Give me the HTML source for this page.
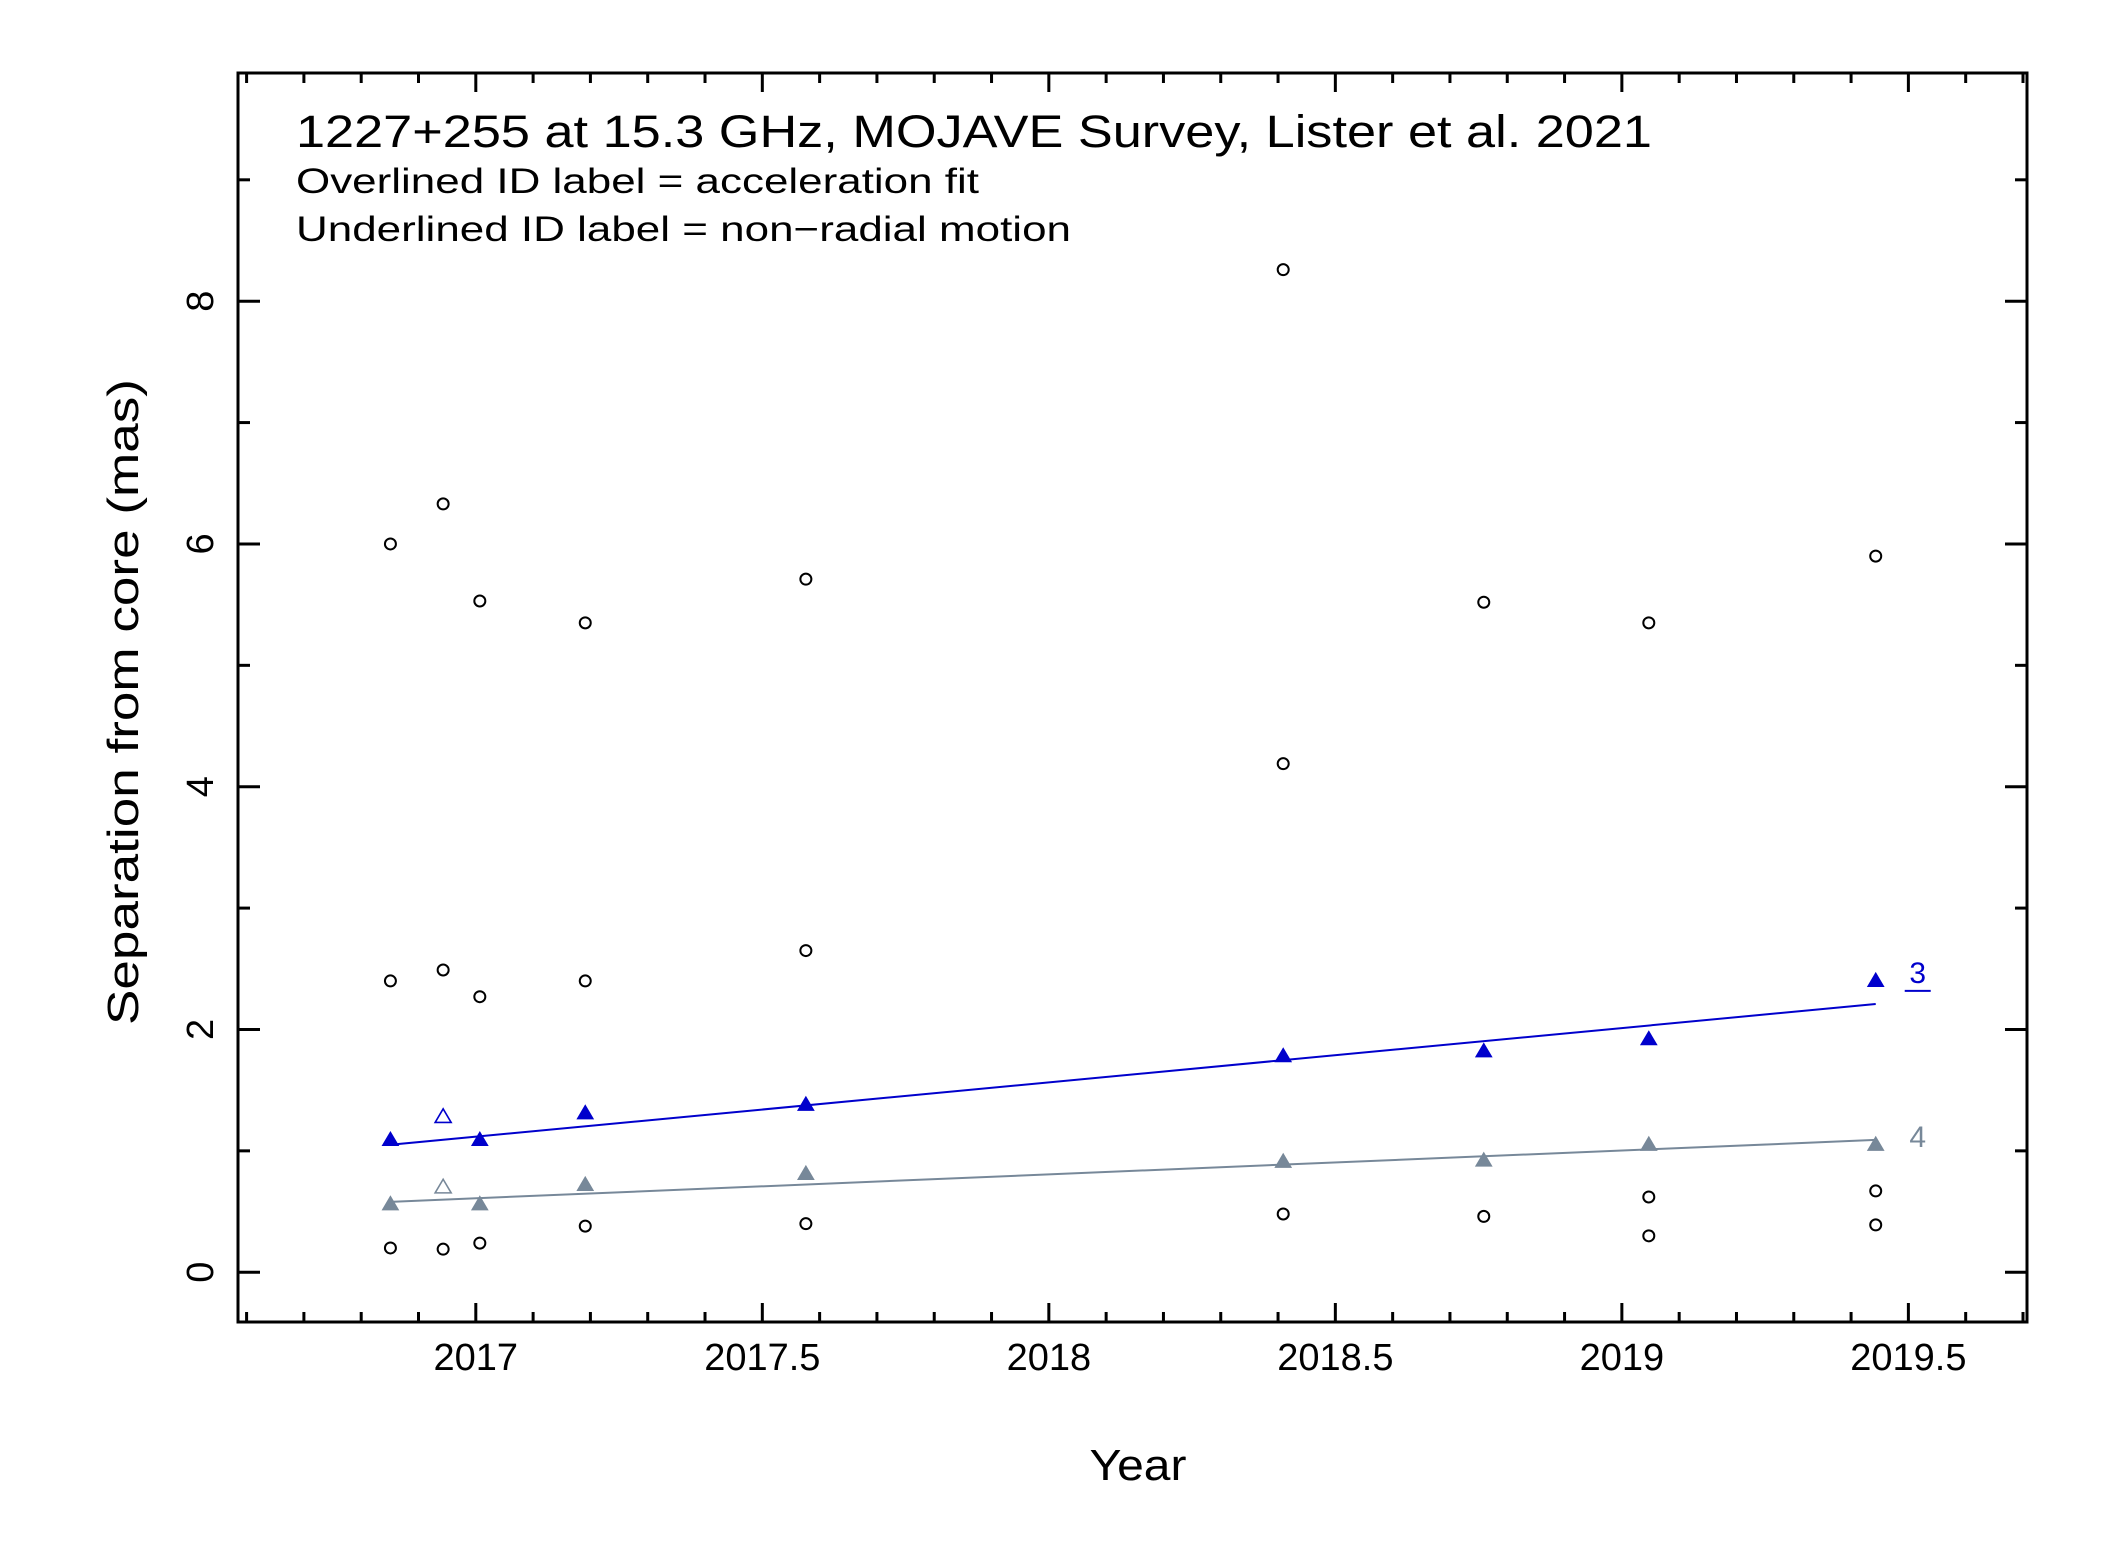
<!DOCTYPE html>
<html><head><meta charset="utf-8"><style>
html,body{margin:0;padding:0;background:#fff;}
svg{display:block;font-family:"Liberation Sans",sans-serif;}
</style></head><body>
<svg id="chart" width="2127" height="1546" viewBox="0 0 2127 1546" xmlns="http://www.w3.org/2000/svg">
<rect x="0" y="0" width="2127" height="1546" fill="#fff"/>
<g id="plot"></g>
<text x="296" y="147" font-size="45" textLength="1356" lengthAdjust="spacingAndGlyphs">1227+255 at 15.3 GHz, MOJAVE Survey, Lister et al. 2021</text>
<text x="296" y="193" font-size="35" textLength="683" lengthAdjust="spacingAndGlyphs">Overlined ID label = acceleration fit</text>
<text x="296" y="241" font-size="35" textLength="775" lengthAdjust="spacingAndGlyphs">Underlined ID label = non−radial motion</text>
<text x="1138" y="1480" font-size="44" text-anchor="middle" textLength="97" lengthAdjust="spacingAndGlyphs">Year</text>
<text transform="translate(138,702) rotate(-90)" font-size="44" text-anchor="middle" textLength="646" lengthAdjust="spacingAndGlyphs">Separation from core (mas)</text>
</svg>
<script>
const epochs = [2016.851, 2016.943, 2017.007, 2017.191, 2017.576, 2018.409, 2018.759, 2019.047, 2019.443];
const otherX = [2016.851,2016.851,2016.851, 2016.943,2016.943,2016.943, 2017.007,2017.007,2017.007, 2017.191,2017.191,2017.191, 2017.576,2017.576,2017.576, 2018.409,2018.409,2018.409, 2018.759,2018.759, 2019.047,2019.047,2019.047, 2019.443,2019.443,2019.443];
const otherY = [6.00,2.40,0.20, 6.33,2.49,0.19, 5.53,2.27,0.24, 5.35,2.40,0.38, 5.71,2.65,0.40, 8.26,4.19,0.48, 5.52,0.46, 5.35,0.62,0.30, 5.90,0.67,0.39];
const comp3Y = [1.09, 1.28, 1.09, 1.31, 1.38, 1.78, 1.82, 1.92, 2.40];
const comp3Open = [false, true, false, false, false, false, false, false, false];
const comp3Fit = [1.05, 2.21];
const comp4Y = [0.56, 0.70, 0.56, 0.72, 0.81, 0.91, 0.92, 1.05, 1.05];
const comp4Open = [false, true, false, false, false, false, false, false, false];
const comp4Fit = [0.58, 1.09];
const xTicks = [2017, 2017.5, 2018, 2018.5, 2019, 2019.5];
const xTickLabels = ["2017", "2017.5", "2018", "2018.5", "2019", "2019.5"];
const yTicks = [0, 2, 4, 6, 8];
const yTickLabels = ["0", "2", "4", "6", "8"];

const L=238, R=2027, T=73, B=1322;
const xMin=2016.585, xMax=2019.707, yMin=-0.41, yMax=9.88;
const X = v => L + (v - xMin) / (xMax - xMin) * (R - L);
const Y = v => B - (v - yMin) / (yMax - yMin) * (B - T);
const NS = "http://www.w3.org/2000/svg";
const g = document.getElementById('plot');
function mk(tag, attrs, parent) {
  const e = document.createElementNS(NS, tag);
  for (const k in attrs) e.setAttribute(k, attrs[k]);
  (parent || g).appendChild(e);
  return e;
}
const frame = mk('rect', {x:L, y:T, width:R-L, height:B-T, fill:'none', stroke:'#000', 'stroke-width':3});


for (let i = Math.ceil(xMin*10); i <= Math.floor(xMax*10); i++) {
  const v = i/10, x = X(v), major = (i % 5 === 0), len = major ? 19 : 10;
  const t1 = mk('line', {x1:x, y1:B, x2:x, y2:B-len, stroke:'#000', 'stroke-width':3});
  
  
  const t2 = mk('line', {x1:x, y1:T, x2:x, y2:T+len, stroke:'#000', 'stroke-width':3});
  
  
}
xTicks.forEach((v, i) => {
  const t = mk('text', {x:X(v), y:1370, 'font-size':38, 'text-anchor':'middle'});
  t.textContent = xTickLabels[i];
  
  
});
for (let v = Math.ceil(yMin); v <= Math.floor(yMax); v++) {
  const y = Y(v), major = (v % 2 === 0), len = major ? 22 : 12;
  const t1 = mk('line', {x1:L, y1:y, x2:L+len, y2:y, stroke:'#000', 'stroke-width':3});
  
  
  const t2 = mk('line', {x1:R, y1:y, x2:R-len, y2:y, stroke:'#000', 'stroke-width':3});
  
  
}
yTicks.forEach((v, i) => {
  const t = mk('text', {transform:`translate(213,${Y(v)}) rotate(-90)`, 'font-size':38, 'text-anchor':'middle'});
  t.textContent = yTickLabels[i];
  
  
});
otherX.forEach((xv, i) => {
  const c = mk('circle', {cx:X(xv), cy:Y(otherY[i]), r:5.5, fill:'none', stroke:'#000', 'stroke-width':2});
  
  
});
function tri(x, y, color, open) {
  const s = 8;
  return mk('polygon', {points:`${x-s},${y+s*0.7} ${x+s},${y+s*0.7} ${x},${y-s*1.0}`,
    fill: open ? 'none' : color, stroke: color, 'stroke-width': open ? 1.6 : 1});
}
function series(ys, open, fit, color, name, label, underline) {
  const ln = mk('line', {x1:X(epochs[0]), y1:Y(fit[0]), x2:X(epochs[epochs.length-1]), y2:Y(fit[1]), stroke:color, 'stroke-width':2});
  
  
  ys.forEach((v, i) => {
    const p = tri(X(epochs[i]), Y(v), color, open[i]);
    
    
  });
  const lx = X(epochs[epochs.length-1]) + 42, ly = Y(ys[ys.length-1]) + 2;
  const t = mk('text', {x:lx, y:ly, 'font-size':30, fill:color, 'text-anchor':'middle'});
  t.textContent = label;
  
  
  if (underline) {
    const u = mk('line', {x1:lx-13, y1:ly+8, x2:lx+13, y2:ly+8, stroke:color, 'stroke-width':2});
    
    
  }
}
series(comp3Y, comp3Open, comp3Fit, '#0000cc', 'component-3', '3', true);
series(comp4Y, comp4Open, comp4Fit, '#778899', 'component-4', '4', false);
</script>
</body></html>
